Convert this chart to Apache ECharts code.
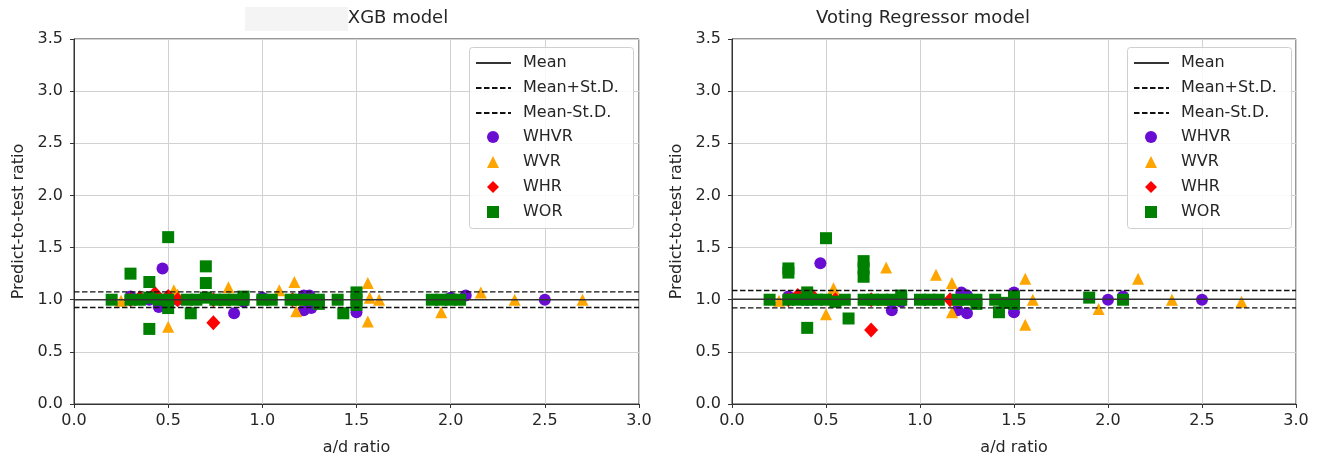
<!DOCTYPE html>
<html>
<head>
<meta charset="utf-8">
<script src="https://cdn.jsdelivr.net/npm/echarts@6/dist/echarts.min.js"></script>
<style>
html,body{margin:0;padding:0;background:#fff;}
#chart{width:1321px;height:461px;}
</style>
</head>
<body>
<div id="chart"></div>
<script>
// ---- data (a/d ratio, predict-to-test ratio) ----
const xTicks = [0, 0.5, 1.0, 1.5, 2.0, 2.5, 3.0];
const yTicks = [0, 0.5, 1.0, 1.5, 2.0, 2.5, 3.0, 3.5];
const seriesNames = ['WHVR', 'WVR', 'WHR', 'WOR'];
const lineNames = ['Mean', 'Mean+St.D.', 'Mean-St.D.'];

// XGB model
const xgbStats = [1.0, 1.075, 0.925]; // mean, mean+sd, mean-sd
const xgbWHVR = [[0.3,1.03],[0.4,1.0],[0.45,0.93],[0.47,1.3],[0.55,1.0],[0.85,0.87],[0.9,0.98],[1.0,1.02],
  [1.22,1.04],[1.25,1.04],[1.22,0.9],[1.26,0.92],[1.3,1.0],[1.5,0.88],[2.0,1.02],[2.08,1.04],[2.5,1.0]];
const xgbWVR = [[0.25,0.99],[0.53,1.09],[0.55,1.05],[0.5,0.74],[0.8,1.0],[0.82,1.12],[1.09,1.09],[1.17,1.17],
  [1.18,0.89],[1.2,1.0],[1.56,1.16],[1.56,0.79],[1.57,1.02],[1.62,1.0],[1.95,0.88],[2.16,1.07],[2.34,1.0],[2.7,1.0]];
const xgbWHR = [[0.3,1.0],[0.35,1.02],[0.43,1.06],[0.5,1.03],[0.55,1.0],[0.74,0.78],[0.74,1.0],[1.16,1.0]];
const xgbWOR = [[0.2,1.0],[0.3,1.25],[0.3,1.0],[0.35,1.0],[0.4,1.17],[0.4,0.72],[0.4,1.02],[0.45,1.0],[0.5,1.6],
  [0.5,0.92],[0.5,1.0],[0.62,0.87],[0.6,1.0],[0.65,1.0],[0.7,1.32],[0.7,1.16],[0.7,1.02],[0.75,1.0],[0.8,1.0],
  [0.85,1.0],[0.9,1.0],[0.9,1.03],[1.0,1.0],[1.05,1.0],[1.15,1.0],[1.2,1.0],[1.25,1.0],[1.3,1.0],[1.3,0.96],
  [1.4,1.0],[1.43,0.87],[1.5,1.07],[1.5,1.0],[1.5,0.95],[1.9,1.0],[1.95,1.0],[2.0,1.0],[2.05,1.0]];

// Voting Regressor model
const vrStats = [1.005, 1.088, 0.922];
const vrWHVR = [[0.3,1.03],[0.4,1.0],[0.47,1.35],[0.85,0.9],[0.9,0.98],[1.2,0.9],[1.22,1.07],[1.25,1.04],
  [1.25,0.87],[1.5,1.07],[1.5,0.88],[2.0,1.0],[2.08,1.03],[2.5,1.0]];
const vrWVR = [[0.25,0.99],[0.54,1.11],[0.55,1.05],[0.5,0.86],[0.8,1.0],[0.82,1.31],[1.085,1.24],[1.17,1.16],
  [1.17,0.88],[1.2,1.0],[1.56,1.2],[1.56,0.76],[1.6,1.0],[1.95,0.91],[2.16,1.2],[2.34,1.0],[2.71,0.98]];
const vrWHR = [[0.3,1.0],[0.35,1.04],[0.43,1.03],[0.55,1.0],[0.74,0.71],[0.74,1.0],[1.16,1.0]];
const vrWOR = [[0.2,1.0],[0.3,1.26],[0.3,1.3],[0.3,1.0],[0.35,1.0],[0.4,1.07],[0.4,0.73],[0.4,1.0],[0.45,1.0],
  [0.5,1.59],[0.5,1.0],[0.55,0.98],[0.6,1.0],[0.62,0.82],[0.7,1.37],[0.7,1.3],[0.7,1.22],[0.7,1.0],[0.75,1.0],
  [0.8,1.0],[0.85,1.0],[0.9,1.0],[0.9,1.04],[1.0,1.0],[1.05,1.0],[1.1,1.0],[1.2,1.0],[1.25,1.0],[1.3,1.0],
  [1.3,0.96],[1.4,1.0],[1.42,0.88],[1.45,0.97],[1.5,1.03],[1.5,0.96],[1.9,1.02],[2.08,1.0]];

const titles = ['XGB model', 'Voting Regressor model'];

// ---- styling ----
const FONT = 'DejaVu Sans';
const TXT = '#262626';
const colors = {WHVR:'#6a0dd3', WVR:'#ffa500', WHR:'#ff0000', WOR:'#008000'};
const symbols = {WHVR:'circle', WVR:'triangle', WHR:'diamond', WOR:'rect'};
const sizes = {WHVR:12, WVR:12, WHR:[14,15], WOR:12};
const grids = [
  {left:74, top:39, width:565, height:365},
  {left:732, top:39, width:564, height:365}
];
const legendBoxes = [{x:469, y:47}, {x:1127, y:47}];

function axisCommon(){
  return {
    axisLine:{show:true, lineStyle:{color:'#333', width:1}},
    axisTick:{show:true, inside:false, length:4, lineStyle:{color:'#333', width:1}},
    splitLine:{show:true, lineStyle:{color:'#d2d2d2', width:1}},
    nameTextStyle:{fontFamily:FONT, fontSize:16, color:TXT}
  };
}

const xAxes = [], yAxes = [], series = [], legends = [], graphics = [];
const sets = [
  {stats:xgbStats, pts:{WHVR:xgbWHVR, WVR:xgbWVR, WHR:xgbWHR, WOR:xgbWOR}},
  {stats:vrStats, pts:{WHVR:vrWHVR, WVR:vrWVR, WHR:vrWHR, WOR:vrWOR}}
];

sets.forEach((s, i) => {
  xAxes.push(Object.assign(axisCommon(), {
    gridIndex:i, type:'value', min:xTicks[0], max:xTicks[xTicks.length-1], interval:0.5,
    name:'a/d ratio', nameLocation:'middle', nameGap:36,
    axisLabel:{fontFamily:FONT, fontSize:16, color:TXT, margin:9, formatter:v=>v.toFixed(1)}
  }));
  yAxes.push(Object.assign(axisCommon(), {
    gridIndex:i, type:'value', min:yTicks[0], max:yTicks[yTicks.length-1], interval:0.5,
    name:'Predict-to-test ratio', nameLocation:'middle', nameGap:47,
    axisLabel:{fontFamily:FONT, fontSize:16, color:TXT, margin:11, formatter:v=>v.toFixed(1)}
  }));
  lineNames.forEach((ln, k) => {
    series.push({
      name:ln, type:'line', xAxisIndex:i, yAxisIndex:i, symbol:'none', z:5, silent:true,
      data:[[xTicks[0], s.stats[k]], [xTicks[xTicks.length-1], s.stats[k]]],
      lineStyle:{color: k===0 ? '#333' : '#111', width: k===0 ? 1.6 : 1.4, type: k===0 ? 'solid' : [5.5, 2.5]},
      itemStyle:{color: k===0 ? '#333' : '#111'}
    });
  });
  seriesNames.forEach(sn => {
    series.push({
      name:sn, type:'scatter', xAxisIndex:i, yAxisIndex:i, z:2,
      symbol:symbols[sn], symbolSize:sizes[sn],
      itemStyle:{color:colors[sn], opacity:1},
      data:s.pts[sn]
    });
  });
  const b = legendBoxes[i];
  graphics.push({
    type:'rect', x:b.x + 0.5, y:b.y + 0.5, z:3,
    shape:{width:164, height:181, r:3},
    style:{fill:'rgba(255,255,255,0.85)', stroke:'#cfcfcf', lineWidth:1}
  });
  legends.push({
    orient:'vertical', left:b.x, top:b.y, z:6,
    data: lineNames.map(n => ({name:n, itemStyle:{opacity:0}})),
    itemWidth:35, itemHeight:12, itemGap:9,
    padding:[8, 12, 0, 6],
    textStyle:{fontFamily:FONT, fontSize:16, color:TXT, padding:[0,0,0,7]},
    selectedMode:false
  });
  legends.push({
    orient:'vertical', left:b.x + 18, top:b.y + 82, z:6,
    data: seriesNames.map(n => ({name:n, icon:symbols[n]})),
    itemWidth:12, itemHeight:12, itemGap:9,
    padding:0,
    textStyle:{fontFamily:FONT, fontSize:16, color:TXT, padding:[0,0,0,19]},
    selectedMode:false
  });
});

graphics.push({type:'rect', left:245, top:7, shape:{width:103, height:24}, style:{fill:'#f4f4f4'}, z:-1});

const option = {
  animation:false,
  backgroundColor:'#ffffff',
  title:[
    {text:titles[0], left:393, top:4, textAlign:'center', textStyle:{fontFamily:FONT, fontSize:18, fontWeight:'normal', color:TXT}},
    {text:titles[1], left:918, top:4, textAlign:'center', textStyle:{fontFamily:FONT, fontSize:18, fontWeight:'normal', color:TXT}}
  ],
  graphic:graphics,
  grid: grids.map(g => Object.assign({show:true, borderColor:'#333', borderWidth:1, containLabel:false}, g)),
  xAxis:xAxes,
  yAxis:yAxes,
  legend:legends,
  series:series
};

const chart = echarts.init(document.getElementById('chart'), null, {renderer:'canvas'});
chart.setOption(option);
</script>
</body>
</html>
